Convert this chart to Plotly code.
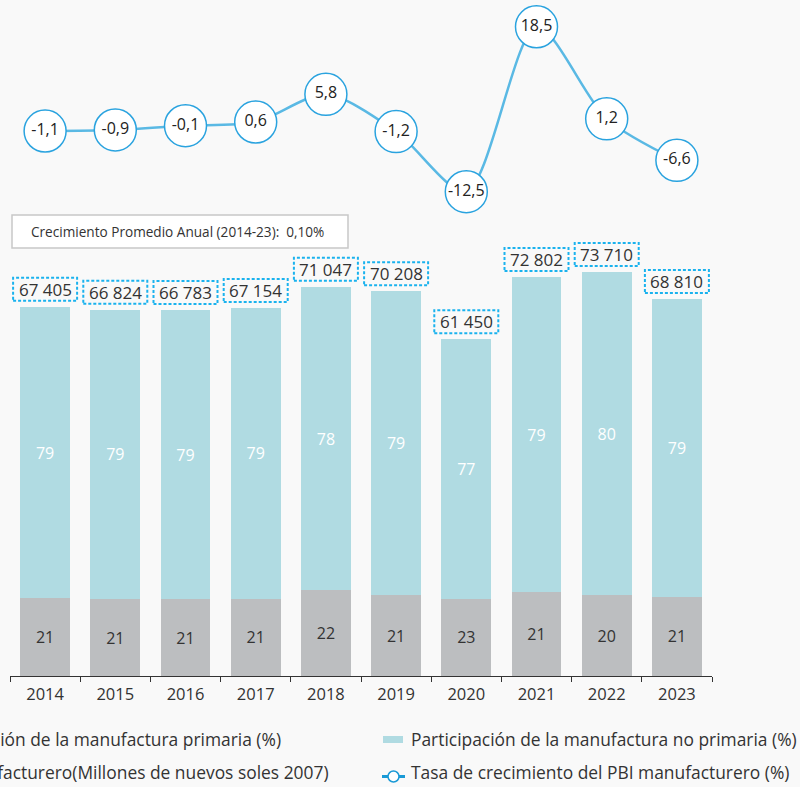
import plotly.graph_objects as go

years = ["2014", "2015", "2016", "2017", "2018", "2019", "2020", "2021", "2022", "2023"]
pbi = [67405, 66824, 66783, 67154, 71047, 70208, 61450, 72802, 73710, 68810]
primaria = [21, 21, 21, 21, 22, 21, 23, 21, 20, 21]
no_primaria = [79, 79, 79, 79, 78, 79, 77, 79, 80, 79]
tasa = [-1.1, -0.9, -0.1, 0.6, 5.8, -1.2, -12.5, 18.5, 1.2, -6.6]
promedio_txt = "Crecimiento Promedio Anual (2014-23):  0,10%"
legend_labels = [
    "Participación de la manufactura primaria (%)",
    "PBI manufacturero(Millones de nuevos soles 2007)",
    "Participación de la manufactura no primaria (%)",
    "Tasa de crecimiento del PBI manufacturero (%)",
]

FONT = "Open Sans"
W, H = 800, 787
ML, MR, MT, MB = 10, 88, 0, 111
PW, PH = W - ML - MR, H - MT - MB


def px(xp):
    return (xp - ML) / PW


def py(yp):
    return (H - MB - yp) / PH


fig = go.Figure()

fig.add_trace(go.Bar(
    x=years, y=[p * s / 100 for p, s in zip(pbi, primaria)],
    marker=dict(color="#bcbec0", line=dict(width=0)),
    text=[str(s) for s in primaria], textposition="inside", insidetextanchor="middle",
    textfont=dict(color="#333333", size=16, family=FONT),
    name=legend_labels[0], showlegend=False, hoverinfo="skip",
))
fig.add_trace(go.Bar(
    x=years, y=[p * s / 100 for p, s in zip(pbi, no_primaria)],
    marker=dict(color="#b0dbe2", line=dict(width=0)),
    text=[str(s) for s in no_primaria], textposition="inside", insidetextanchor="middle",
    textfont=dict(color="white", size=16, family=FONT),
    name=legend_labels[2], showlegend=False, hoverinfo="skip",
))
fig.add_trace(go.Scatter(
    x=years, y=tasa, yaxis="y2", mode="lines+markers+text",
    line=dict(color="#5ab9e4", width=2.5, shape="spline", smoothing=0.8),
    marker=dict(size=42, color="white", line=dict(color="#2aa3df", width=1.5)),
    text=[f"{v:.1f}".replace(".", ",") for v in tasa], textposition="middle center",
    textfont=dict(color="#222222", size=16, family=FONT),
    cliponaxis=False, name=legend_labels[3], showlegend=False, hoverinfo="skip",
))

annotations = []
shapes = []
for i, v in enumerate(pbi):
    annotations.append(dict(
        x=i, y=v, xref="x", yref="y", yshift=17.5, yanchor="middle", showarrow=False,
        text=f"{v:,}".replace(",", " "),
        font=dict(size=17, color="#333333", family=FONT),
    ))
    shapes.append(dict(
        type="rect", xref="x", yref="y", xsizemode="pixel", ysizemode="pixel",
        xanchor=i, yanchor=v, x0=-32, x1=32, y0=6, y1=29,
        line=dict(color="#1ab2ee", width=2, dash="3px,2px"),
        fillcolor="rgba(0,0,0,0)",
    ))

# average growth box
shapes.append(dict(type="rect", xref="paper", yref="paper",
                   x0=px(12), x1=px(348), y0=py(248), y1=py(215),
                   line=dict(color="#c8c8c8", width=1.5), fillcolor="white", layer="below"))
annotations.append(dict(x=px(29), y=py(232), xref="paper", yref="paper", xanchor="left",
                        yanchor="middle", showarrow=False, text=promedio_txt,
                        font=dict(size=13.6, color="#333333", family=FONT)))

# legend (drawn manually)
leg_font = dict(size=17.4, color="#333333", family=FONT)
annotations.append(dict(x=px(283), y=py(739), xref="paper", yref="paper", xanchor="right",
                        yanchor="middle", showarrow=False, text=legend_labels[0], font=leg_font))
annotations.append(dict(x=px(331), y=py(772), xref="paper", yref="paper", xanchor="right",
                        yanchor="middle", showarrow=False, text=legend_labels[1], font=leg_font))
annotations.append(dict(x=px(409), y=py(739), xref="paper", yref="paper", xanchor="left",
                        yanchor="middle", showarrow=False, text=legend_labels[2], font=leg_font))
annotations.append(dict(x=px(409), y=py(772), xref="paper", yref="paper", xanchor="left",
                        yanchor="middle", showarrow=False, text=legend_labels[3], font=leg_font))
shapes.append(dict(type="rect", xref="paper", yref="paper",
                   x0=px(383), x1=px(403), y0=py(743), y1=py(736),
                   line=dict(width=0), fillcolor="#b0dbe2"))
shapes.append(dict(type="line", xref="paper", yref="paper",
                   x0=px(382), x1=px(405), y0=py(776.5), y1=py(776.5),
                   line=dict(color="#1a9ad6", width=3)))
shapes.append(dict(type="circle", xref="paper", yref="paper",
                   x0=px(388), x1=px(399), y0=py(782), y1=py(771),
                   line=dict(color="#1a9ad6", width=1.5), fillcolor="white"))

fig.update_layout(
    width=W, height=H,
    margin=dict(l=ML, r=MR, t=MT, b=MB, autoexpand=False),
    paper_bgcolor="#f9f9f9", plot_bgcolor="#f9f9f9",
    barmode="stack", bargap=0.29,
    showlegend=False,
    font=dict(family=FONT, color="#333333"),
    xaxis=dict(type="category", range=[-0.5, 9.5], showline=True, linecolor="#333333",
               linewidth=1, ticks="outside", tickson="boundaries", ticklen=5,
               tickcolor="#333333", tickfont=dict(size=16.5, color="#333333", family=FONT),
               ticklabelstandoff=3,
               showgrid=False, zeroline=False, fixedrange=True),
    yaxis=dict(range=[0, PH * 182.5], visible=False, showgrid=False, zeroline=False),
    yaxis2=dict(range=[-(PH - 125.2) / 5.32, 125.2 / 5.32], overlaying="y", visible=False,
                showgrid=False, zeroline=False),
    annotations=annotations,
    shapes=shapes,
)

fig.write_html("out.html", config={"displayModeBar": False},
               post_script="document.body.style.margin='0';")
